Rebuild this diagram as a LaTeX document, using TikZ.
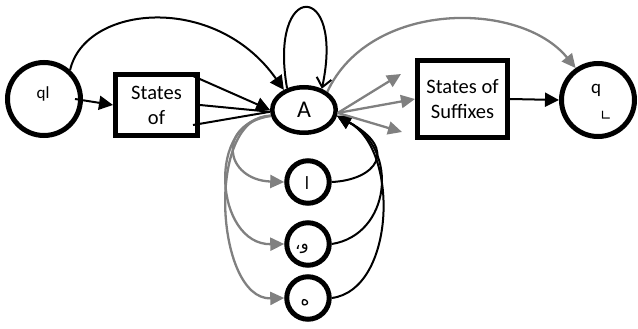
\documentclass[tikz,border=0pt]{standalone}
\usepackage{fontspec}
\setmainfont{Carlito}
\newfontfamily\arabicfont[Script=Arabic]{DejaVu Sans}
\newfontfamily\symfont{DejaVu Sans}
\TeXXeTstate=1
\usetikzlibrary{arrows.meta,shapes.geometric}
\begin{document}
\begin{tikzpicture}[x=1pt,y=-1pt,
  state/.style={circle,draw,line width=5pt,inner sep=0pt},
  sbox/.style={rectangle,draw,line width=5pt,align=center,inner sep=0pt,
    font=\fontsize{20.5}{25}\selectfont},
  blk/.style={draw=black,line width=2pt,-{Triangle[length=14pt,width=14pt]}},
  plain/.style={draw=black,line width=2pt},
  gry/.style={draw=gray,line width=2.3pt,-{Triangle[length=14pt,width=13pt]}},
  artxt/.style={font=\arabicfont\fontsize{17}{19}\selectfont,inner sep=0pt}
]
\useasboundingbox (0,0) rectangle (638,329);
% nodes
\node[state,minimum size=73pt] (ql) at (44,99) {};
\node[font=\fontsize{17}{19}\selectfont,inner sep=0pt] (qlt) at (43,94) {ql};
\node[sbox,minimum width=82pt,minimum height=61pt] (box1) at (156.5,105) {States\\of};
\node[ellipse,draw,line width=4.5pt,minimum width=63.5pt,minimum height=45.5pt,inner sep=0pt,
  font=\fontsize{24}{28}\selectfont] (A) at (304,110) {A};
\node[state,minimum size=42.5pt] (c1) at (308,182) {};
\node[state,minimum size=42.5pt] (c2) at (308,244) {};
\node[state,minimum size=42.5pt] (c3) at (308,298) {};
\node[artxt] (t1) at (307,183) {\beginR ا\endR};
\node[artxt] (t2) at (302,249) {\beginR و،\endR};
\node[artxt] (t3) at (305,303) {\beginR ه\endR};
\node[sbox,minimum width=90pt,minimum height=77pt] (box2) at (462.5,99) {States of\\Suffixes};
\node[state,minimum size=73pt] (q) at (598,100) {};
\node[font=\fontsize{19}{21}\selectfont,inner sep=0pt] (qt) at (596,90) {q};
\node[font=\symfont\fontsize{14}{16}\selectfont,inner sep=0pt] (qs) at (606,116) {∟};
\coordinate (g1) at (401,74);
\coordinate (g3) at (402,132);
% connectors
\draw[blk] ([xshift=-8pt]ql.east) -- (box1.west);
\draw[blk] (ql.48) .. controls (85,5) and (215,-8) .. (A.135);
\draw[line width=2pt,-{Straight Barb[length=9pt,width=15pt]}] (A.128) .. controls (268,-20) and (345,-20) .. (A.50);
\draw[plain] (box1.east) -- (A.183);
\draw[plain] ([shift={(-7,-13)}]box1.south east) -- (A.183);
\draw[blk] ([shift={(-7,4)}]box1.north east) -- (A.180);
% gray from A to small circles
\draw[gry] (A.190) .. controls (215,125) and (225,180) .. (c1.west);
\draw[gry] (A.190) .. controls (205,120) and (215,245) .. (c2.west);
\draw[gry] (A.190) .. controls (205,115) and (215,300) .. (c3.west);
% black returns
\draw[blk] (c1.east) .. controls (375,180) and (400,150) .. (A.-10);
\draw[blk] (c2.east) .. controls (390,235) and (400,150) .. (A.-10);
\draw[blk] (c3.east) .. controls (395,290) and (400,150) .. (A.-10);
% gray from A right
\draw[gry] (A.-5) -- (g1);
\draw[gry] (A.-5) -- (box2.west);
\draw[gry] (A.-5) -- (g3);
\draw[gry] (A.38) .. controls (370,0) and (520,0) .. (q.125);
\draw[blk] (box2.east) -- (q.west);
\end{tikzpicture}
\end{document}
